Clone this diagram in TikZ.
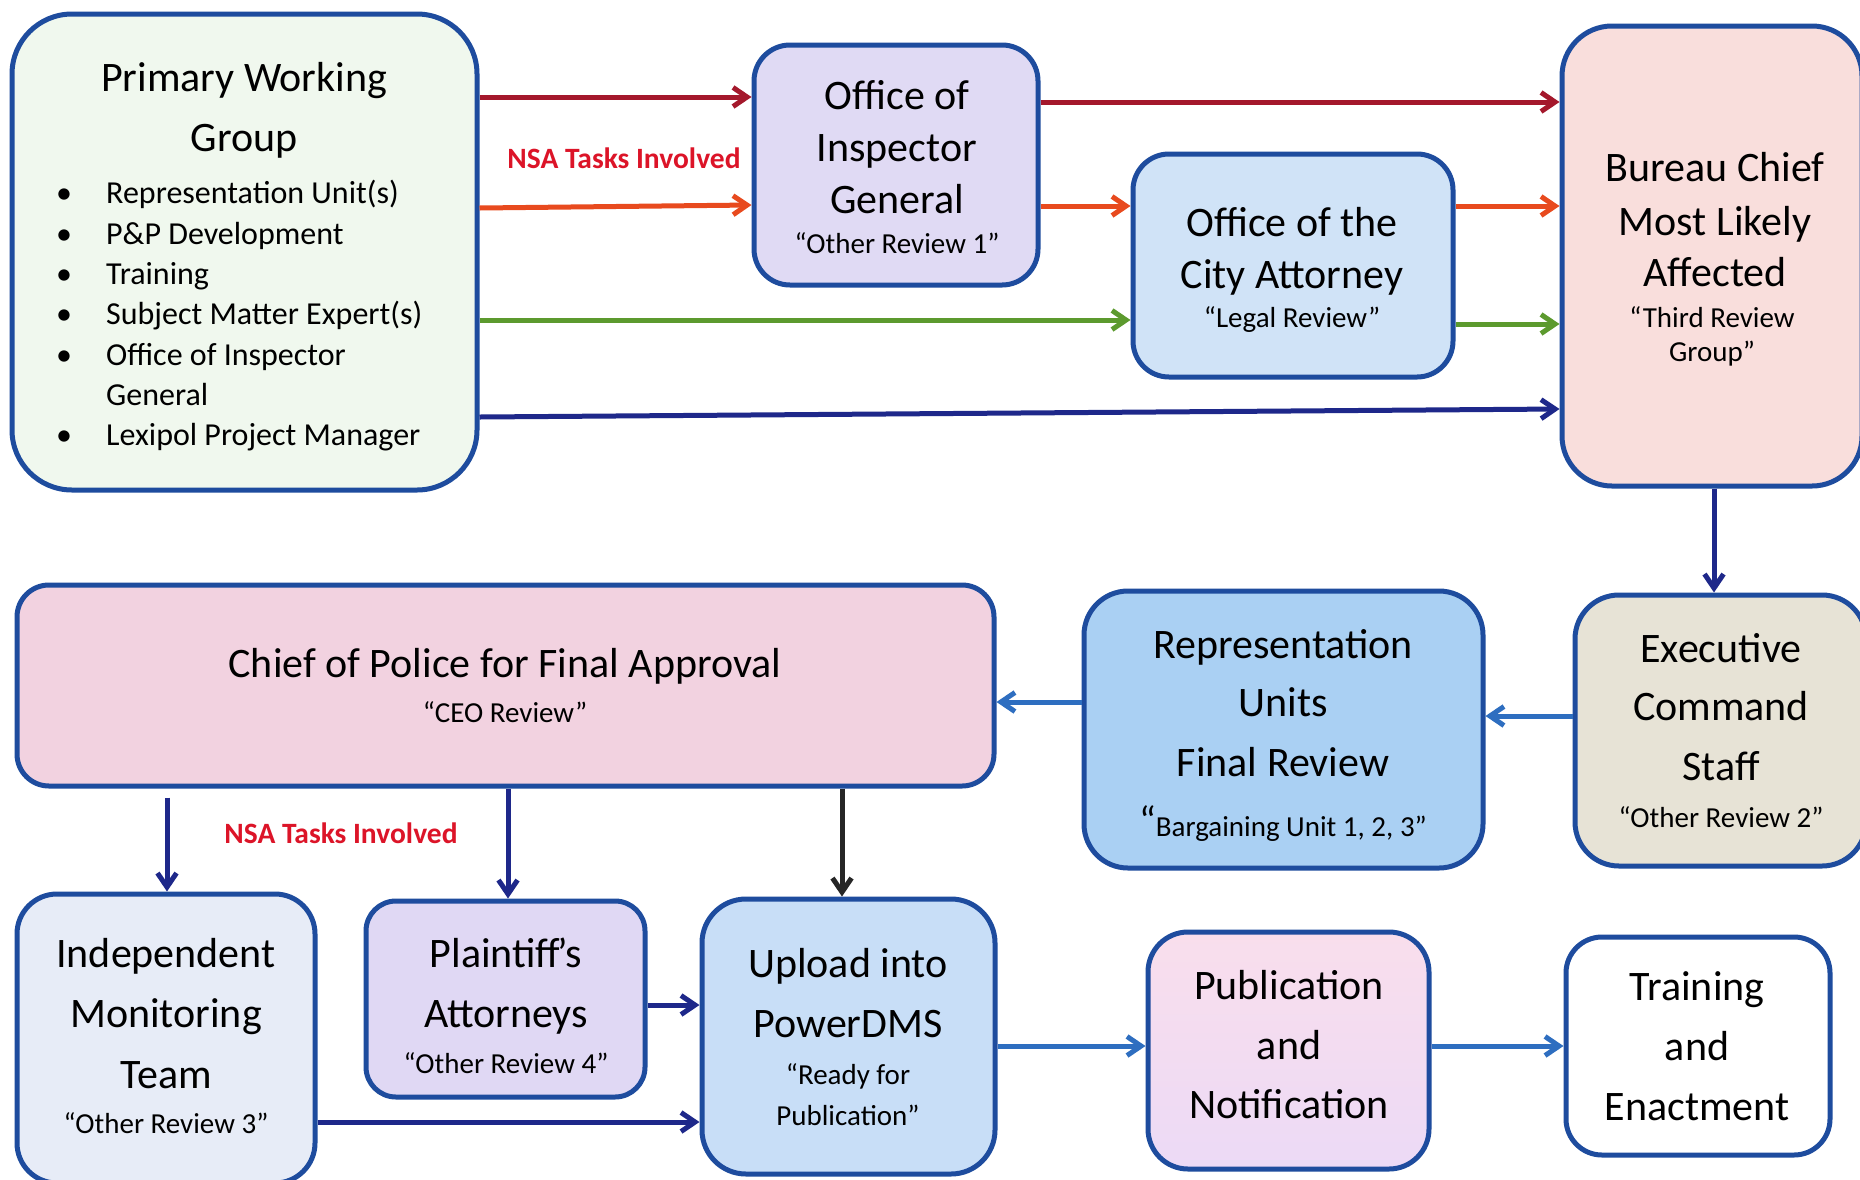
\documentclass[tikz,border=0pt]{standalone}
\usepackage{fontspec}
\setmainfont{Carlito}
\usetikzlibrary{arrows.meta}
\definecolor{bord}{RGB}{30,76,158}
\definecolor{cpwg}{RGB}{240,248,238}
\definecolor{coig}{RGB}{224,218,244}
\definecolor{coca}{RGB}{208,227,247}
\definecolor{cbur}{RGB}{249,222,220}
\definecolor{cchief}{RGB}{242,210,224}
\definecolor{crep}{RGB}{170,208,243}
\definecolor{cexec}{RGB}{231,227,214}
\definecolor{cimt}{RGB}{231,236,247}
\definecolor{cpa}{RGB}{224,216,244}
\definecolor{cupl}{RGB}{200,222,247}
\definecolor{cpubt}{RGB}{249,222,236}
\definecolor{cpubb}{RGB}{236,218,246}
\definecolor{adr}{RGB}{164,24,44}
\definecolor{aor}{RGB}{232,74,30}
\definecolor{agr}{RGB}{92,154,46}
\definecolor{anv}{RGB}{30,40,138}
\definecolor{ablu}{RGB}{46,110,192}
\definecolor{nsared}{RGB}{220,20,40}
\tikzset{
  box/.style={draw=bord, line width=5pt, rounded corners=#1, inner sep=0pt, rectangle},
  box/.default=40pt,
  ttl/.style={font=\fontsize{42}{50}\selectfont, anchor=base, inner sep=0pt},
  sub/.style={font=\fontsize{29}{34}\selectfont, anchor=base, inner sep=0pt},
  itm/.style={font=\fontsize{32}{38}\selectfont, anchor=base west, inner sep=0pt},
  bul/.style={font=\fontsize{32}{38}\selectfont, anchor=base, inner sep=0pt},
  nsa/.style={font=\fontsize{29.5}{34}\selectfont\bfseries, text=nsared, anchor=base, inner sep=0pt},
  arr/.style={line width=5pt, -{Straight Barb[length=14pt,width=19pt]}}
}
\begin{document}
\begin{tikzpicture}[x=1pt,y=-1pt]
\clip (0,0) rectangle (1860,1179);
\fill[white] (0,0) rectangle (1860,1179);

% boxes
\node[box=60pt, fill=cpwg, minimum width=465pt, minimum height=476pt] (pwg) at (244.5,252) {};
\node[box=36pt, fill=coig, minimum width=284pt, minimum height=240pt] (oig) at (896,165) {};
\node[box=36pt, fill=coca, minimum width=320pt, minimum height=223pt] (oca) at (1293,265.5) {};
\node[box=50pt, fill=cbur, minimum width=300pt, minimum height=460pt] (bur) at (1712,256) {};
\node[box=32pt, fill=cchief, minimum width=977pt, minimum height=201pt] (chief) at (505.5,685.5) {};
\node[box=44pt, fill=crep, minimum width=399pt, minimum height=277pt] (rep) at (1283.5,729.5) {};
\node[box=44pt, fill=cexec, minimum width=291pt, minimum height=271pt] (exec) at (1720.5,730.5) {};
\node[box=40pt, fill=cimt, minimum width=298pt, minimum height=289pt] (imt) at (166,1038.5) {};
\node[box=30pt, fill=cpa, minimum width=279pt, minimum height=196pt] (pa) at (505.5,999) {};
\node[box=44pt, fill=cupl, minimum width=293pt, minimum height=275pt] (upl) at (848.5,1036.5) {};
\node[box=40pt, top color=cpubt, bottom color=cpubb, minimum width=281pt, minimum height=237pt] (pub) at (1288.5,1050.5) {};
\node[box=36pt, fill=white, minimum width=264pt, minimum height=218pt] (trn) at (1698,1046) {};

% texts: Primary Working Group
\node[ttl] (pwgt1) at (244,91) {Primary Working};
\node[ttl] (pwgt2) at (244,151) {Group};
\node[bul] (b1) at (64,203) {•}; \node[itm] (i1) at (106,203) {Representation Unit(s)};
\node[bul] (b2) at (64,244) {•}; \node[itm] (i2) at (106,244) {P\&P Development};
\node[bul] (b3) at (64,284) {•}; \node[itm] (i3) at (106,284) {Training};
\node[bul] (b4) at (64,324) {•}; \node[itm] (i4) at (106,324) {Subject Matter Expert(s)};
\node[bul] (b5) at (64,365) {•}; \node[itm] (i5) at (106,365) {Office of Inspector};
\node[itm] (i5b) at (106,405) {General};
\node[bul] (b6) at (64,445) {•}; \node[itm] (i6) at (106,445) {Lexipol Project Manager};

% OIG
\node[ttl] (oigt1) at (897,109) {Office of};
\node[ttl] (oigt2) at (897,161) {Inspector};
\node[ttl] (oigt3) at (897,213) {General};
\node[sub] (oigs) at (897,253) {“Other Review 1”};
% OCA
\node[ttl] (ocat1) at (1292,236) {Office of the};
\node[ttl] (ocat2) at (1292,288) {City Attorney};
\node[sub] (ocas) at (1292,327) {“Legal Review”};
% Bureau
\node[ttl] (burt1) at (1715,181) {Bureau Chief};
\node[ttl] (burt2) at (1715,235) {Most Likely};
\node[ttl] (burt3) at (1715,286) {Affected};
\node[sub] (burs1) at (1712,327) {“Third Review};
\node[sub] (burs2) at (1712,361) {Group”};
% Chief
\node[ttl] (chieft) at (505,677) {Chief of Police for Final Approval};
\node[sub] (chiefs) at (505,722) {“CEO Review”};
% Rep
\node[ttl] (rept1) at (1283,658) {Representation};
\node[ttl] (rept2) at (1283,716) {Units};
\node[ttl] (rept3) at (1283,776) {Final Review};
\node[sub] (reps) at (1283,836) {{\fontsize{40}{40}\selectfont\raisebox{2pt}{“}}Bargaining Unit 1, 2, 3”};
% Exec
\node[ttl] (exect1) at (1721,662) {Executive};
\node[ttl] (exect2) at (1721,720) {Command};
\node[ttl] (exect3) at (1721,780) {Staff};
\node[sub] (execs) at (1721,827) {“Other Review 2”};
% IMT
\node[ttl] (imtt1) at (166,967) {Independent};
\node[ttl] (imtt2) at (166,1027) {Monitoring};
\node[ttl] (imtt3) at (166,1088) {Team};
\node[sub] (imts) at (166,1133) {“Other Review 3”};
% PA
\node[ttl] (pat1) at (506,967) {Plaintiff\kern-2.5pt’s};
\node[ttl] (pat2) at (506,1027) {Attorneys};
\node[sub] (pas) at (506,1073) {“Other Review 4”};
% Upload
\node[ttl] (uplt1) at (848,977) {Upload into};
\node[ttl] (uplt2) at (848,1037) {PowerDMS};
\node[sub] (upls1) at (848,1084) {“Ready for};
\node[sub] (upls2) at (848,1125) {Publication”};
% Publication
\node[ttl] (pubt1) at (1289,999) {Publication};
\node[ttl] (pubt2) at (1289,1059) {and};
\node[ttl] (pubt3) at (1289,1118) {Notification};
% Training
\node[ttl] (trnt1) at (1697,1000) {Training};
\node[ttl] (trnt2) at (1697,1060) {and};
\node[ttl] (trnt3) at (1697,1120) {Enactment};

% NSA labels
\node[nsa] (nsa1) at (624,168) {NSA Tasks Involved};
\node[nsa] (nsa2) at (341,843) {NSA Tasks Involved};

% helper coordinates
\coordinate (ydr1) at (0,97);
\coordinate (ydr2) at (0,102);
\coordinate (yor1a) at (0,208);
\coordinate (yor1b) at (0,205);
\coordinate (yor2) at (0,206);
\coordinate (ygr1) at (0,320);
\coordinate (ygr2) at (0,324);
\coordinate (ynva) at (0,417);
\coordinate (ynvb) at (0,409);
\coordinate (xbur) at (1714,0);
\coordinate (yexe) at (0,716);
\coordinate (yrep) at (0,702);
\coordinate (ximt) at (167,0);
\coordinate (xpa) at (508,0);
\coordinate (xupl) at (842,0);
\coordinate (ypa) at (0,1005);
\coordinate (yimt) at (0,1122);
\coordinate (yupl) at (0,1046);

% top connectors
\draw[arr, adr] (pwg.east |- ydr1) -- (oig.west |- ydr1);
\draw[arr, adr] (oig.east |- ydr2) -- (bur.west |- ydr2);
\draw[arr, aor] (pwg.east |- yor1a) -- (oig.west |- yor1b);
\draw[arr, aor] (oig.east |- yor2) -- (oca.west |- yor2);
\draw[arr, aor] (oca.east |- yor2) -- (bur.west |- yor2);
\draw[arr, agr] (pwg.east |- ygr1) -- (oca.west |- ygr1);
\draw[arr, agr] (oca.east |- ygr2) -- (bur.west |- ygr2);
\draw[arr, anv] (pwg.east |- ynva) -- (bur.west |- ynvb);
\draw[arr, anv] (bur.south -| xbur) -- (exec.north -| xbur);
\draw[arr, ablu] (exec.west |- yexe) -- (rep.east |- yexe);
\draw[arr, ablu] (rep.west |- yrep) -- (chief.east |- yrep);
% bottom connectors
\draw[arr, anv, shorten <=9pt] (chief.south -| ximt) -- (imt.north -| ximt);
\draw[arr, anv] (chief.south -| xpa) -- (pa.north -| xpa);
\draw[arr, black!85] (chief.south -| xupl) -- (upl.north -| xupl);
\draw[arr, anv] (pa.east |- ypa) -- (upl.west |- ypa);
\draw[arr, anv] (imt.east |- yimt) -- (upl.west |- yimt);
\draw[arr, ablu] (upl.east |- yupl) -- (pub.west |- yupl);
\draw[arr, ablu] (pub.east |- yupl) -- (trn.west |- yupl);
\end{tikzpicture}
\end{document}
